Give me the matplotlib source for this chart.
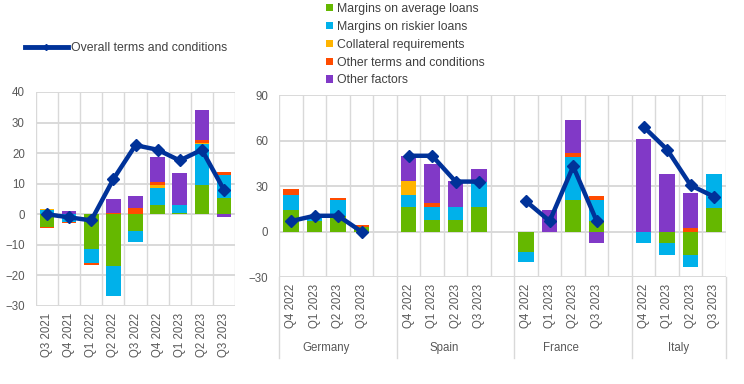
import numpy as np
import matplotlib
matplotlib.use("Agg")
import matplotlib.pyplot as plt
from matplotlib.lines import Line2D
from matplotlib.patches import Patch
import matplotlib.transforms as mtransforms

plt.rcParams['font.family'] = ['Liberation Sans', 'DejaVu Sans']

# series
series_names = ["Margins on average loans", "Margins on riskier loans",
                "Collateral requirements", "Other terms and conditions",
                "Other factors"]
colours = ["#65B800", "#00B1EA", "#FFB400", "#FF4B00", "#8139C7"]
line_name = "Overall terms and conditions"
line_colour = "#003299"

# euro area
ea_quarters = ["Q3 2021", "Q4 2021", "Q1 2022", "Q2 2022", "Q3 2022",
               "Q4 2022", "Q1 2023", "Q2 2023", "Q3 2023"]
ea_avg = [-4.2, 0.0, -11.5, -17.0, -5.6, 3.1, 0.5, 9.5, 5.4]
ea_risk = [1.4, -2.6, -4.5, -9.8, -3.5, 5.4, 2.5, 13.5, 7.5]
ea_coll = [0.3, 0.0, 0.0, 0.0, 0.0, 1.0, 0.0, 0.3, 0.0]
ea_other = [-0.3, -0.2, -0.5, 0.5, 2.1, 1.0, 0.0, 1.1, 0.8]
ea_factors = [0.0, 1.0, 0.0, 4.5, 4.0, 8.4, 10.4, 9.8, -0.9]
ea_overall = [0.0, -1.0, -2.0, 11.5, 22.6, 21.1, 17.6, 21.1, 8.0]

# countries
countries = ["Germany", "Spain", "France", "Italy"]
country_quarters = ["Q4 2022", "Q1 2023", "Q2 2023", "Q3 2023"]

de_avg = [14.0, 7.0, 10.5, 3.0]
de_risk = [10.5, 3.0, 10.7, 0.0]
de_coll = [0.0, 0.0, 0.0, 0.0]
de_other = [3.7, 0.0, 1.1, 1.3]
de_factors = [0.0, 0.0, 0.0, 0.0]
de_overall = [7.0, 10.5, 10.5, 0.0]

es_avg = [16.5, 8.0, 8.0, 16.5]
es_risk = [8.0, 8.5, 8.5, 16.5]
es_coll = [8.8, 0.0, 0.0, 0.0]
es_other = [0.0, 2.6, 0.0, 0.0]
es_factors = [16.4, 25.2, 16.8, 8.4]
es_overall = [50.0, 50.0, 33.0, 33.0]

fr_avg = [-13.4, 0.0, 21.2, 6.8]
fr_risk = [-6.5, 0.0, 28.3, 14.4]
fr_coll = [0.0, 0.0, 0.0, 0.0]
fr_other = [0.0, 0.0, 2.6, 2.2]
fr_factors = [0.0, 14.0, 21.3, -7.2]
fr_overall = [20.0, 7.0, 43.0, 7.0]

it_avg = [0.0, -7.7, -15.3, 15.3]
it_risk = [-7.7, -7.6, -7.9, 22.8]
it_coll = [0.0, 0.0, 0.0, 0.0]
it_other = [0.0, 0.0, 2.6, 0.0]
it_factors = [61.3, 38.1, 22.6, 0.0]
it_overall = [69.0, 54.0, 30.5, 23.0]

country_parts = [
    [de_avg, de_risk, de_coll, de_other, de_factors],
    [es_avg, es_risk, es_coll, es_other, es_factors],
    [fr_avg, fr_risk, fr_coll, fr_other, fr_factors],
    [it_avg, it_risk, it_coll, it_other, it_factors],
]
country_overall = [de_overall, es_overall, fr_overall, it_overall]

text_col = "#595959"
grid_col = "#D9D9D9"
bar_w = 0.66


def stacked_bars(ax, x, parts):
    pos = np.zeros(len(x))
    neg = np.zeros(len(x))
    for vals, col in zip(parts, colours):
        vals = np.asarray(vals, float)
        bottom = np.where(vals >= 0, pos, neg)
        ax.bar(x, vals, bar_w, bottom=bottom, color=col, linewidth=0, zorder=2)
        pos += np.clip(vals, 0, None)
        neg += np.clip(vals, None, 0)


def style_axes(ax, n, ymin, ymax, step):
    ax.set_xlim(-0.5, n - 0.5)
    ax.set_ylim(ymin, ymax)
    ax.set_yticks(np.arange(ymin, ymax + 1, step))
    ax.set_xticks(np.arange(-0.5, n, 1.0), minor=True)
    ax.grid(axis='y', which='major', color=grid_col, lw=1.4, zorder=0)
    ax.grid(axis='x', which='minor', color=grid_col, lw=1.0, zorder=0)
    ax.set_axisbelow(True)
    for s in ax.spines.values():
        s.set_visible(False)
    ax.tick_params(axis='both', which='both', length=0, colors=text_col,
                   labelsize=8.3)
    ax.tick_params(axis='y', pad=8)
    ax.tick_params(axis='x', pad=5)


fig = plt.figure(figsize=(7.44, 3.84), dpi=100)

# left panel: euro area
ax1 = fig.add_axes([36 / 744, 1 - 306 / 384, 199 / 744, 214 / 384])
x1 = np.arange(len(ea_quarters))
stacked_bars(ax1, x1, [ea_avg, ea_risk, ea_coll, ea_other, ea_factors])
ax1.plot(x1, ea_overall, color=line_colour, lw=3.2, marker='D', ms=6.5,
         zorder=3)
style_axes(ax1, len(ea_quarters), -30, 40, 10)
ax1.set_xticks(x1)
ax1.set_xticklabels(ea_quarters, rotation=90, va='top')

# right panel: countries
ax2 = fig.add_axes([279.3 / 744, 1 - 277.3 / 384, 446.7 / 744, 182.3 / 384])
slots = 5 * len(countries) - 1
ticks = []
labels = []
for i, (parts, overall) in enumerate(zip(country_parts, country_overall)):
    x = np.arange(4) + 5 * i
    stacked_bars(ax2, x, parts)
    ax2.plot(x, overall, color=line_colour, lw=3.2, marker='D', ms=6.5,
             zorder=3)
    ticks += list(x)
    labels += country_quarters
style_axes(ax2, slots, -30, 90, 30)
ax2.set_xticks(ticks)
ax2.set_xticklabels(labels, rotation=90, va='top')

trans = mtransforms.blended_transform_factory(ax2.transData, ax2.transAxes)
for b in [-0.5, 4.5, 9.5, 14.5, slots - 0.5]:
    ax2.plot([b, b], [0, -0.44], color=grid_col, lw=1.0, transform=trans,
             clip_on=False)
for i, name in enumerate(countries):
    ax2.text(5 * i + 1.5, -0.39, name, transform=trans, ha='center',
             va='center', fontsize=8.3, color=text_col)

# legends
line_handle = [Line2D([], [], color=line_colour, lw=3.5, marker='D', ms=3)]
fig.legend(line_handle, [line_name], loc='center left',
           bbox_to_anchor=(25 / 744, 1 - 48 / 384), frameon=False,
           fontsize=8.8, handlelength=3.5, handletextpad=0.3,
           borderpad=0, borderaxespad=0, labelcolor="#404040")

bar_handles = [Patch(facecolor=c, edgecolor='none') for c in colours]
fig.legend(bar_handles, series_names, loc='upper left',
           bbox_to_anchor=(326 / 744, 1 - 3 / 384), frameon=False,
           fontsize=8.8, handlelength=0.55, handleheight=0.55,
           handletextpad=0.35, labelspacing=0.48,
           borderpad=0, borderaxespad=0, labelcolor="#404040")

fig.savefig("out.png", dpi=100)
